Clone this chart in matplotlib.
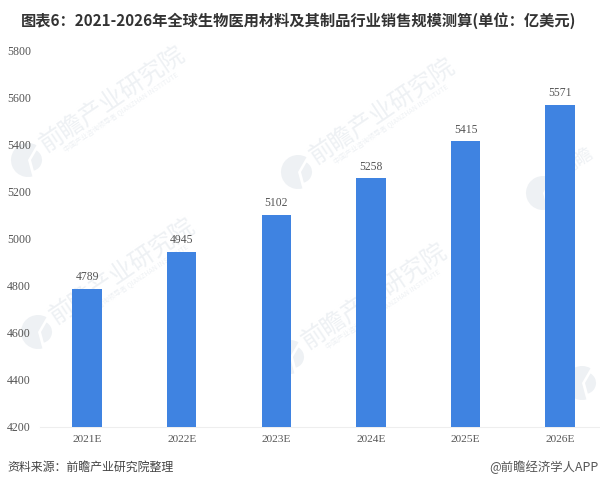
import matplotlib
matplotlib.use("Agg")
import matplotlib.pyplot as plt
from matplotlib.patches import Wedge

plt.rcParams['font.family'] = ['Noto Sans CJK SC', 'DejaVu Sans']

years = ["2021E", "2022E", "2023E", "2024E", "2025E", "2026E"]
values = [4789, 4945, 5102, 5258, 5415, 5571]
yticks = [4200, 4400, 4600, 4800, 5000, 5200, 5400, 5600, 5800]
title = "图表6：2021-2026年全球生物医用材料及其制品行业销售规模测算(单位：亿美元)"
source = "资料来源：前瞻产业研究院整理"
credit = "@前瞻经济学人APP"
watermark = "前瞻产业研究院"
watermark_sub = "中国产业咨询领导者 QIANZHAN INSTITUTE"
mark_centers = [(113, 100), (383, 112), (123, 272), (375, 297)]
logo_only = [(590, 383)]

W, H = 600, 486
fig = plt.figure(figsize=(W / 100, H / 100), dpi=100, facecolor="white")
bg = fig.add_axes([0, 0, 1, 1], zorder=0)
bg.set_xlim(0, W); bg.set_ylim(H, 0); bg.axis("off")

ax = fig.add_axes([40 / W, 1 - 427 / H, 560 / W, (427 - 51) / H], zorder=1)
ax.patch.set_alpha(0)
ax.bar(range(len(years)), values, width=0.312, color="#3F83E1", zorder=3)
ax.set_ylim(4200, 5800)
ax.set_xlim(-0.497, 5.42)
ax.set_yticks(yticks)
ax.set_xticks(range(len(years)), years)
ax.tick_params(length=0, labelcolor="#555555")
ax.tick_params(axis="y", pad=6.5, labelsize=8.6)
ax.tick_params(axis="x", pad=6, labelsize=8.2)
for lb in ax.get_xticklabels() + ax.get_yticklabels():
    lb.set_family("Liberation Serif")
for s in ["top", "right", "left"]:
    ax.spines[s].set_visible(False)
ax.spines["bottom"].set_color("#EEEEEE")
for i, v in enumerate(values):
    ax.annotate(str(v), (i, v), xytext=(0, 4), textcoords="offset points", ha="center",
                va="bottom", fontsize=8.4, color="#555555", family="Liberation Serif", zorder=4)

fig.text(299 / W, 1 - 21 / H, title, ha="center", va="center", fontsize=11, fontweight="bold", color="#333333")
fig.text(7 / W, 1 - 467 / H, source, ha="left", va="center", fontsize=8.6, color="#444444")
fig.text(598 / W, 1 - 467 / H, credit, ha="right", va="center", fontsize=8.9, color="#555555")

wm = "#EEF1F4"
angle = 34


def logo(x, y):
    bg.add_patch(Wedge((x, y), 17, 75, 300, color=wm, lw=0))
    bg.add_patch(Wedge((x + 3, y), 11, 300, 75, color=wm, lw=0))


for cx, cy in mark_centers:
    logo(cx - 85, cy + 60)
    bg.text(cx, cy, watermark, rotation=angle, rotation_mode="anchor", ha="center", va="center",
            fontsize=17.5, color=wm)
    bg.text(cx + 8, cy + 13, watermark_sub, rotation=angle, rotation_mode="anchor", ha="center", va="center",
            fontsize=5, color=wm)
logo(543, 193)
bg.text(562, 172, watermark[:2], rotation=angle, rotation_mode="anchor", ha="left", va="center",
        fontsize=13, color=wm)
for x, y in logo_only:
    logo(x - 8, y)

fig.savefig("out.png", dpi=100)
